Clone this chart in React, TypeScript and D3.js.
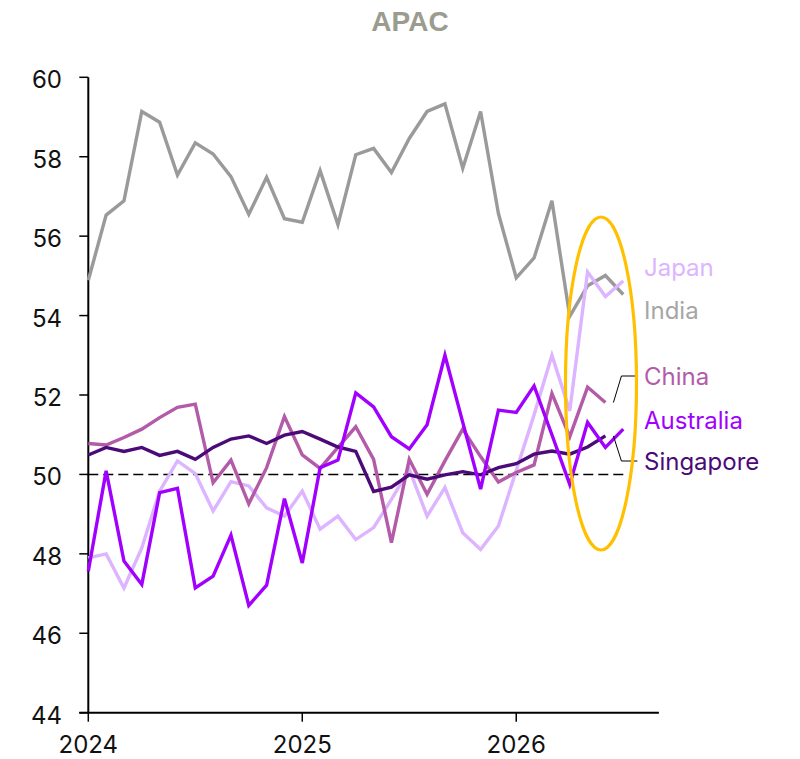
import React from "react";
import * as d3 from "d3";

// Monthly PMI readings, Jan 2024 onwards
const india = [54.89, 56.53, 56.89, 59.14, 58.87, 57.54, 58.35, 58.07, 57.5, 56.55, 57.48, 56.44, 56.35, 57.65, 56.29, 58.05, 58.21, 57.6, 58.46, 59.14, 59.33, 57.71, 59.14, 56.57, 54.95, 55.45, 56.89, 53.98, 54.75, 55.01, 54.53];
const japan = [47.9, 48.0, 47.14, 48.15, 49.58, 50.34, 50.02, 49.08, 49.82, 49.71, 49.16, 48.95, 49.58, 48.62, 48.95, 48.36, 48.66, 49.37, 50.13, 48.95, 49.67, 48.53, 48.11, 48.7, 50.1, 51.5, 53.0, 51.6, 55.1, 54.48, 54.87];
const china = [50.78, 50.74, 50.93, 51.14, 51.43, 51.69, 51.77, 49.79, 50.36, 49.26, 50.17, 51.46, 50.49, 50.15, 50.68, 51.2, 50.38, 48.28, 50.38, 49.5, 50.34, 51.14, 50.45, 49.81, 50.05, 50.24, 52.04, 50.95, 52.2, 51.81];
const australia = [47.56, 50.09, 47.82, 47.23, 49.54, 49.65, 47.14, 47.44, 48.47, 46.7, 47.21, 49.39, 47.77, 50.17, 50.36, 52.05, 51.7, 50.95, 50.64, 51.25, 53.0, 51.31, 49.63, 51.62, 51.56, 52.23, 51.0, 49.75, 51.31, 50.68, 51.14];
const singapore = [50.49, 50.68, 50.58, 50.68, 50.48, 50.58, 50.38, 50.68, 50.89, 50.97, 50.78, 50.99, 51.08, 50.89, 50.69, 50.58, 49.57, 49.68, 49.99, 49.88, 49.99, 50.07, 49.99, 50.17, 50.27, 50.51, 50.59, 50.51, 50.69, 50.97];

const yTicks = [44, 46, 48, 50, 52, 54, 56, 58, 60];
const yearTicks = [0, 12, 24];
const yearLabels = ["2024", "2025", "2026"];
const threshold = 50;

const series = [
  { name: "India", values: india, color: "#9a9a9a", label: "#a6a6a6", labelY: 318.5 },
  { name: "Japan", values: japan, color: "#dcb4ff", label: "#dcb4ff", labelY: 276 },
  { name: "China", values: china, color: "#b35aa8", label: "#b35aa8", labelY: 385 },
  { name: "Singapore", values: singapore, color: "#4b0a78", label: "#4b0a78", labelY: 469.5 },
  { name: "Australia", values: australia, color: "#a100ff", label: "#a100ff", labelY: 428.5 },
];

const W = 800;
const H = 759;

export default function App() {
  const x = d3.scaleLinear().domain([0, 32]).range([88.3, 658.9]);
  const y = d3.scaleLinear().domain([44, 60]).range([712.7, 77.3]);
  const line = d3
    .line<number>()
    .x((_, i) => x(i))
    .y((d) => y(d));

  const chinaEnd = china.length - 1;
  const sgEnd = singapore.length - 1;
  const labelX = 644;

  return (
    <>
      <style>{`body{margin:0}`}</style>
      <svg width={W} height={H} style={{ display: "block" }}>
        <text
          x={410}
          y={30.5}
          textAnchor="middle"
          fontFamily="'Liberation Sans', Arial, sans-serif"
          fontWeight="bold"
          fontSize={28}
          fill="#9b9c90"
        >
          APAC
        </text>

        {/* y axis */}
        <line x1={x(0)} x2={x(0)} y1={y(60)} y2={y(44)} stroke="#000" strokeWidth={2} />
        {yTicks.map((t) => (
          <g key={t}>
            <line x1={x(0) - 9} x2={x(0)} y1={y(t)} y2={y(t)} stroke="#000" strokeWidth={1.5} />
            <text
              x={62}
              y={y(t) + 11}
              textAnchor="end"
              fontFamily="Inter, sans-serif"
              fontSize={24}
              fill="#111"
            >
              {t}
            </text>
          </g>
        ))}

        {/* x axis */}
        <line x1={x(0) - 9} x2={x(32)} y1={y(44)} y2={y(44)} stroke="#000" strokeWidth={2} />
        {yearTicks.map((t, i) => (
          <g key={t}>
            <line x1={x(t)} x2={x(t)} y1={y(44)} y2={y(44) + 9} stroke="#000" strokeWidth={1.5} />
            <text
              x={x(t)}
              y={y(44) + 40.5}
              textAnchor="middle"
              fontFamily="Inter, sans-serif"
              fontSize={24}
              fill="#111"
            >
              {yearLabels[i]}
            </text>
          </g>
        ))}

        {/* 50 threshold */}
        <line
          x1={x(0)}
          x2={628}
          y1={y(threshold)}
          y2={y(threshold)}
          stroke="#000"
          strokeWidth={1.5}
          strokeDasharray="10,5"
        />

        {series.map((s) => (
          <path
            key={s.name}
            d={line(s.values) ?? ""}
            fill="none"
            stroke={s.color}
            strokeWidth={3.4}
            strokeLinejoin="miter"
          />
        ))}

        {/* leader lines */}
        <polyline
          points={`${x(chinaEnd) + 8},${y(china[chinaEnd])} ${x(chinaEnd) + 16},376 ${x(chinaEnd) + 30},376`}
          fill="none"
          stroke="#000"
          strokeWidth={1}
        />
        <polyline
          points={`${x(sgEnd) + 8},${y(singapore[sgEnd])} ${x(sgEnd) + 16},461 ${x(sgEnd) + 32},461`}
          fill="none"
          stroke="#000"
          strokeWidth={1}
        />

        {/* highlight */}
        <ellipse cx={601} cy={383.5} rx={35.5} ry={166.5} fill="none" stroke="#ffc000" strokeWidth={3.2} />

        {series.map((s) => (
          <text
            key={s.name}
            x={labelX}
            y={s.labelY}
            fontFamily="Inter, sans-serif"
            fontSize={24}
            fill={s.label}
          >
            {s.name}
          </text>
        ))}
      </svg>
    </>
  );
}
